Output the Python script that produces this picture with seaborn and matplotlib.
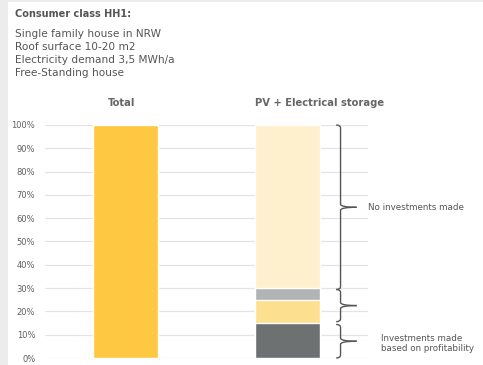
import matplotlib
matplotlib.use("Agg")
import matplotlib.pyplot as plt
import matplotlib.patches as mpatches
from matplotlib.path import Path
import seaborn as sns
import pandas as pd
import numpy as np

# ---- data ----
categories = ["Total", "PV + Electrical storage"]
total_value = [100]
# PV + storage segments, bottom to top (percent)
segment_names = ["Profitable investments", "Segment 2", "Segment 3", "No investments"]
segment_values = [15, 10, 5, 70]
segment_colors = ["#6e7172", "#fde08f", "#b1b3b4", "#fef0cd"]
total_color = "#fec842"
y_ticks = list(range(0, 101, 10))
tick_labels = [f"{t}%" for t in y_ticks]
title = "Consumer class HH1:"
desc_lines = ["Single family house in NRW", "Roof surface 10-20 m2",
              "Electricity demand 3,5 MWh/a", "Free-Standing house"]
brace_labels = ["No investments made", "", "Investments made\nbased on profitability"]

sns.set_theme(style="white")
plt.rcParams['font.family'] = ['DejaVu Sans']

W, H = 483, 365
fig = plt.figure(figsize=(W / 100, H / 100), dpi=100)
fig.patch.set_facecolor("#ececec")
fig.patches.append(mpatches.Rectangle((8 / W, 0), 1, (H - 2) / H, transform=fig.transFigure,
                                      facecolor="white", edgecolor="none", zorder=-10))

ax = fig.add_axes([45 / W, (H - 358) / H, (368 - 45) / W, (358 - 125) / H])
ax.set_facecolor("none")

# stacked bars via overlapping cumulative heights (largest first)
cum = np.cumsum(segment_values)
df_top = pd.DataFrame({"cat": categories, "val": [total_value[0], cum[-1]]})
sns.barplot(data=df_top, x="cat", y="val", hue="cat", order=categories,
            palette=[total_color, segment_colors[-1]], width=0.4, ax=ax,
            legend=False, saturation=1, zorder=3)
for i in range(len(segment_values) - 2, -1, -1):
    d = pd.DataFrame({"cat": [categories[1]], "val": [cum[i]]})
    sns.barplot(data=d, x="cat", y="val", order=categories, color=segment_colors[i],
                width=0.4, ax=ax, saturation=1, zorder=3)

ax.set_xlim(-0.5, 1.5)
ax.set_ylim(0, 100)
ax.set_yticks(y_ticks)
ax.set_yticklabels(tick_labels)
ax.set_xticks([])
ax.set_xlabel("")
ax.set_ylabel("")
ax.tick_params(axis="y", length=0, pad=7, labelsize=6.0, labelcolor="#5f5f5f")
ax.grid(axis="y", color="#e4e4e4", linewidth=0.9, zorder=0)
ax.set_axisbelow(True)
for s in ax.spines.values():
    s.set_visible(False)

# braces
def brace(ax, y0, y1, x0=1.303, x1=1.33, xt=1.43, r=1.3):
    mid = (y0 + y1) / 2
    p1 = Path([(x0, y0), (x1, y0), (x1, y0 + r), (x1, mid - r), (x1, mid), (xt, mid)],
              [Path.MOVETO, Path.CURVE3, Path.CURVE3, Path.LINETO, Path.CURVE3, Path.CURVE3])
    p2 = Path([(xt, mid), (x1, mid), (x1, mid + r), (x1, y1 - r), (x1, y1), (x0, y1)],
              [Path.MOVETO, Path.CURVE3, Path.CURVE3, Path.LINETO, Path.CURVE3, Path.CURVE3])
    for p in (p1, p2):
        ax.add_patch(mpatches.PathPatch(p, facecolor="none", edgecolor="#555555",
                                        linewidth=1.0, clip_on=False, zorder=5))
    return mid

gap = 0.6
ranges = [(cum[2] - gap, cum[3]), (cum[0] + gap, cum[2] - gap), (0, cum[0] - gap)]
mids = [brace(ax, a, b) for a, b in ranges]

ax.text(1.5, mids[0], brace_labels[0], ha="left", va="center", fontsize=6.3,
        color="#555555", clip_on=False)
ax.text(1.58, mids[2] - 1, brace_labels[2], ha="left", va="center", fontsize=6.3,
        color="#555555", clip_on=False, linespacing=1.25)

# header texts
fig.text(15 / W, 1 - 14 / H, title, ha="left", va="center", fontsize=7.0,
         fontweight="bold", color="#555555")
for i, line in enumerate(desc_lines):
    fig.text(15 / W, 1 - (34 + 13 * i) / H, line, ha="left", va="center",
             fontsize=7.6, color="#555555")
fig.text(122 / W, 1 - 103 / H, categories[0], ha="center", va="center", fontsize=7.2,
         fontweight="bold", color="#666666")
fig.text(320 / W, 1 - 103 / H, categories[1], ha="center", va="center", fontsize=7.2,
         fontweight="bold", color="#666666")

fig.savefig("out.png", dpi=100, facecolor=fig.get_facecolor())
